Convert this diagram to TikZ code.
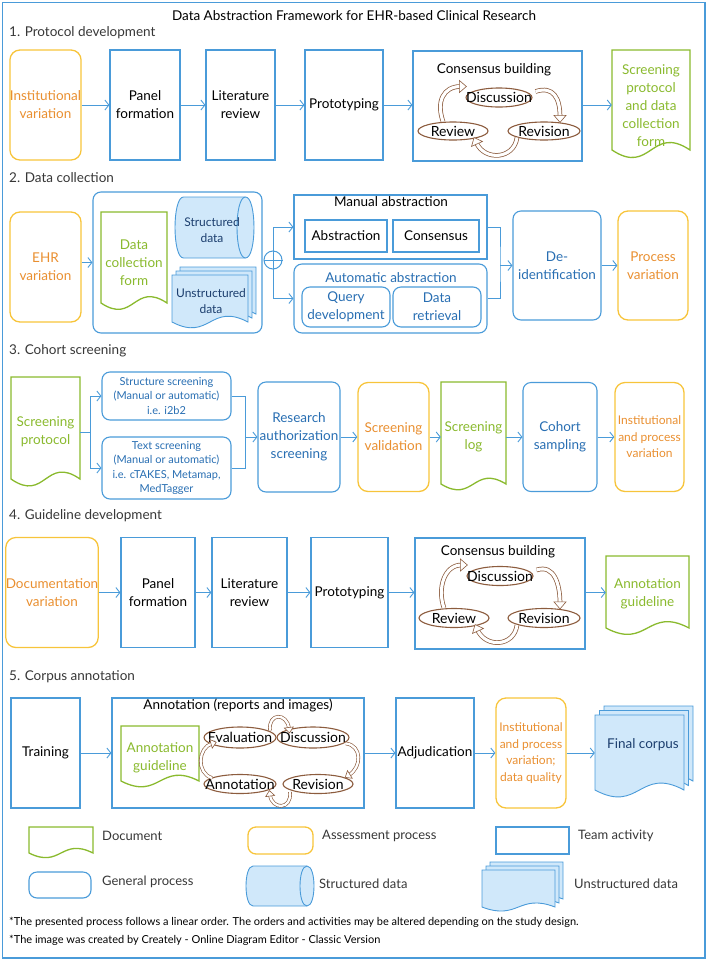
\documentclass[tikz,border=0pt]{standalone}
\usepackage{fontspec}
\setmainfont{Lato}
\usetikzlibrary{arrows.meta,calc,decorations.markings,shapes.geometric}
\definecolor{bl}{RGB}{74,155,217}
\definecolor{blt}{RGB}{40,110,178}
\definecolor{nav}{RGB}{28,62,110}
\definecolor{yel}{RGB}{247,196,59}
\definecolor{org}{RGB}{233,143,48}
\definecolor{grn}{RGB}{138,186,46}
\definecolor{brn}{RGB}{140,92,62}
\definecolor{lbl}{RGB}{208,232,250}
\definecolor{sec}{RGB}{55,55,55}
\newcommand\docp[5]{({#1},{#2}) -- ({#3},{#2}) -- ({#3},{#4}) .. controls ({(#1+#3)/2},{#4-#5}) and ({(#1+#3)/2},{#4+#5}) .. ({#1},{#4}) -- cycle}
\newcommand\cylp[5]{({#1+#5},{#2}) -- ({#3-#5},{#2}) .. controls ({#3+#5/3},{#2}) and ({#3+#5/3},{#4}) .. ({#3-#5},{#4}) -- ({#1+#5},{#4}) .. controls ({#1-#5/3},{#4}) and ({#1-#5/3},{#2}) .. ({#1+#5},{#2}) -- cycle}
\newcommand\cylin[5]{({#3-#5},{#2}) .. controls ({#3-#5*7/3},{#2}) and ({#3-#5*7/3},{#4}) .. ({#3-#5},{#4})}
\newcommand\mdoc[6]{%
 \draw[mdline] \docp{#1+2*#6}{#2-2*#6}{#3+2*#6}{#4-2*#6}{#5};
 \draw[mdline] \docp{#1+#6}{#2-#6}{#3+#6}{#4-#6}{#5};
 \draw[mdline] \docp{#1}{#2}{#3}{#4}{#5};}
\newcommand\holgen[5]{%
 \draw[brn, line width=#1] #5;
 \draw[white, line width=#2, postaction={decorate, decoration={markings, mark=at position 0.999 with {\draw[draw=brn, fill=white, line width=0.6pt, line join=miter] (-1pt,-#4) -- (#3,0pt) -- (-1pt,#4) -- cycle;}}}] #5;}
\newcommand\holB[1]{\holgen{4.6pt}{3.1pt}{6pt}{6pt}{#1}}
\newcommand\holS{\holgen{3.6pt}{2.3pt}{4.5pt}{4.5pt}}
\newcommand\consarrows[3]{%
 \holB{($(#2.north)+(-10,0)$) .. controls +(-7,-20) and +(-17,0) .. ($(#1.west)+(-5,-11)$)}
 \holB{($(#1.east)+(3,-6)$) .. controls +(18,-6) and +(0,-18) .. ($(#3.north)+(16,-5)$)}
 \holB{($(#3.south)+(-27,-3)$) .. controls +(-3,22) and +(8,18) .. ($(#2.east)+(-12,12)$)}}
\tikzset{
 base/.style={inner sep=0pt, align=center, font=\fontsize{13.5}{18}\selectfont},
 txt/.style={base},
 etxt/.style={inner sep=0pt, font=\fontsize{14}{16}\selectfont},
 f12/.style={font=\fontsize{12}{16.5}\selectfont},
 f11/.style={font=\fontsize{11}{14.5}\selectfont},
 team/.style={base, draw=bl, line width=1.1pt, text=black},
 gen/.style={base, draw=bl, line width=1.1pt, rounded corners=8pt, text=blt},
 asm/.style={base, draw=yel, line width=1.3pt, rounded corners=10pt, text=org},
 ghost/.style={base, draw=none},
 sz/.style 2 args={minimum width=#1pt, minimum height=#2pt},
 conn/.style={draw=bl, line width=0.9pt, -{Straight Barb[length=4pt,width=10pt]}},
 link/.style={draw=bl, line width=0.9pt},
 ell/.style={ellipse, draw=brn, line width=1.1pt, inner sep=0pt},
 docline/.style={draw=grn, line width=1.3pt, fill=white},
 mdline/.style={draw=bl, line width=0.9pt, fill=lbl},
 leg/.style={anchor=west, inner sep=0pt, text=sec, font=\fontsize{13}{15}\selectfont},
 seclab/.style={anchor=west, inner sep=0pt, text=sec, font=\fontsize{13.5}{15}\selectfont},
 foot/.style={anchor=west, inner sep=0pt, font=\fontsize{11}{13}\selectfont},
}
\begin{document}
\begin{tikzpicture}[x=1pt,y=-1pt]
\useasboundingbox (0,0) rectangle (709,962);
\draw[bl, line width=1.1pt] (2.5,2.5) rectangle (705,958);
\node[txt] (title) at (354,16) {Data Abstraction Framework for EHR-based Clinical Research};
\node[seclab] (s1) at (9,33) {1. Protocol development};
\node[seclab] (s2) at (9,178) {2. Data collection};
\node[seclab] (s3) at (9,351) {3. Cohort screening};
\node[seclab] (s4) at (9,516) {4. Guideline development};
\node[seclab] (s5) at (9,677) {5. Corpus annotation};

% ---------------- Section 1
\node[asm, sz={71}{110}] (iv1) at (45.5,105) {Institutional\\variation};
\node[team, sz={70}{110}] (pf1) at (145,105) {Panel\\formation};
\node[team, sz={69}{110}] (lr1) at (240.5,105) {Literature\\review};
\node[team, sz={78}{110}] (pt1) at (344,105) {Prototyping};
\node[team, sz={169}{110}] (cb1) at (497.5,106) {};
\node[txt] (cb1l) at (494,70) {Consensus building};
\node[ell, sz={66}{19}] (d1) at (499,97.5) {};
\node[etxt] (d1t) at (d1) {Discussion};
\node[ell, sz={70}{18}] (rv1) at (453,131) {};
\node[etxt] (rv1t) at (rv1) {Review};
\node[ell, sz={72}{18}] (rs1) at (544,131) {};
\node[etxt] (rs1t) at (rs1) {Revision};
\consarrows{d1}{rv1}{rs1}
\node[ghost, sz={78}{100}] (sp1) at (651,100) {};
\draw[docline] \docp{612}{50}{690}{150}{26};
\node[txt, text=grn] (sp1t) at (651,106) {Screening\\protocol\\and data\\collection\\form};
\draw[conn] (iv1) -- (pf1);
\draw[conn] (pf1) -- (lr1);
\draw[conn] (lr1) -- (pt1);
\draw[conn] (pt1.east) -- (pt1.east -| cb1.west);
\draw[conn] (cb1.east |- pt1.east) -- (sp1.west |- pt1.east);

% ---------------- Section 2
\node[asm, sz={71}{110}] (ehr) at (45.5,267) {EHR\\variation};
\node[gen, sz={169}{141}] (dc) at (177.5,262.5) {};
\draw[conn] (dc.west -| ehr.east) -- (dc.west);
\node[ghost, sz={66}{91}] (dcf) at (134,257.5) {};
\draw[docline] \docp{101}{212}{167}{303}{22};
\node[txt, text=grn] (dcft) at (134,263) {Data\\collection\\form};
\node[ghost, sz={79}{61}] (sd) at (214.5,227.5) {};
\draw[mdline] \cylp{175}{197}{254}{258}{8.5};
\draw[bl, line width=0.9pt] \cylin{175}{197}{254}{258}{8.5};
\node[txt, f12, text=nav] (sdt) at (212,230) {Structured\\data};
\node[ghost, sz={84}{65}] (ud) at (214,299.5) {};
\mdoc{172}{275}{248}{322}{20}{4}
\node[txt, f12, text=nav] (udt) at (211,301) {Unstructured\\data};
\node[circle, draw=bl, line width=1pt, minimum size=18pt, inner sep=0pt] (pl) at (273,260) {};
\draw[link] (pl.north) -- (pl.south) (pl.west) -- (pl.east);
\node[team, sz={193}{64}] (ma) at (390.5,227) {};
\node[txt] (mal) at (391,202) {Manual abstraction};
\node[team, sz={82}{32}] (ab) at (346,236) {Abstraction};
\node[team, sz={86}{32}] (cn) at (436,236) {Consensus};
\node[gen, sz={193}{69}] (aa) at (390.5,298.5) {};
\node[txt, text=blt] (aal) at (391,278) {Automatic abstraction};
\node[gen, sz={88}{40}] (qd) at (346,307) {Query\\development};
\node[gen, sz={88}{40}] (drt) at (437,307) {Data\\retrieval};
\draw[conn] (pl.north) |- (ma.west);
\draw[conn] (pl.south) |- (aa.west);
\node[gen, sz={88}{109}] (de) at (557,265.5) {De-\\identification};
\node[asm, sz={70}{109}] (pv) at (653,265.5) {Process\\variation};
\coordinate (mj2) at (500,265.5);
\draw[link] (ma.east) -| (mj2) |- (aa.east);
\draw[conn] (mj2) -- (de.west |- mj2);
\draw[conn] (de) -- (pv);

% ---------------- Section 3
\node[ghost, sz={69}{102}] (sp3) at (45.5,428) {};
\draw[docline] \docp{11}{377}{80}{479}{24};
\node[txt, text=grn] (sp3t) at (45.5,432) {Screening\\protocol};
\node[gen, f11, sz={129}{48}] (ss) at (166.5,396) {Structure screening\\(Manual or automatic)\\i.e. i2b2};
\node[gen, f11, sz={129}{62}] (ts) at (166.5,468) {Text screening\\(Manual or automatic)\\i.e. cTAKES, Metamap,\\MedTagger};
\coordinate (br3) at (90,432);
\draw[link] (sp3.east |- br3) -- (br3);
\draw[conn] (br3) |- (ss.west);
\draw[conn] (br3) |- (ts.west);
\node[gen, sz={82}{110}] (ra) at (299,437) {Research\\authorization\\screening};
\coordinate (mg3) at (245,437);
\draw[link] (ss.east) -| (mg3);
\draw[link] (ts.east) -| (mg3);
\draw[conn] (mg3) -- (ra.west);
\node[asm, sz={71}{109}] (sv) at (393.5,437) {Screening\\validation};
\node[ghost, sz={65}{102}] (slog) at (473.5,433) {};
\draw[docline] \docp{441}{382}{506}{484}{20};
\node[txt, text=grn] (slogt) at (473.5,437) {Screening\\log};
\node[gen, sz={74}{109}] (cs) at (560,437) {Cohort\\sampling};
\node[asm, f12, sz={69}{109}] (ipv) at (649.5,437) {Institutional\\and process\\variation};
\draw[conn] (ra) -- (sv);
\draw[conn] (sv.east) -- (sv.east -| slog.west);
\draw[conn] (slog.east |- sv.east) -- (cs.west);
\draw[conn] (cs) -- (ipv);

% ---------------- Section 4
\node[asm, sz={82}{110}] (dv) at (52,592.5) {Documentation\\variation};
\node[team, sz={74}{110}] (pf4) at (158,592.5) {Panel\\formation};
\node[team, sz={75}{110}] (lr4) at (249.5,592.5) {Literature\\review};
\node[team, sz={77}{110}] (pt4) at (349.5,592.5) {Prototyping};
\node[team, sz={170}{111}] (cb4) at (500,593.5) {};
\node[txt] (cb4l) at (498,552) {Consensus building};
\node[ell, sz={66}{19}] (d4) at (500,576) {};
\node[etxt] (d4t) at (d4) {Discussion};
\node[ell, sz={70}{19}] (rv4) at (454,618) {};
\node[etxt] (rv4t) at (rv4) {Review};
\node[ell, sz={72}{19}] (rs4) at (544,618) {};
\node[etxt] (rs4t) at (rs4) {Revision};
\consarrows{d4}{rv4}{rs4}
\node[ghost, sz={83}{72}] (ag4) at (647.5,592) {};
\draw[docline] \docp{606}{556}{689}{628}{22};
\node[txt, text=grn] (ag4t) at (647.5,594) {Annotation\\guideline};
\draw[conn] (dv) -- (pf4);
\draw[conn] (pf4) -- (lr4);
\draw[conn] (lr4) -- (pt4);
\draw[conn] (pt4.east) -- (pt4.east -| cb4.west);
\draw[conn] (cb4.east |- pt4.east) -- (ag4.west |- pt4.east);

% ---------------- Section 5
\node[team, sz={69}{110}] (tr) at (45.5,753) {Training};
\node[team, sz={252}{110}] (an) at (238,753) {};
\node[txt] (anl) at (238,705) {Annotation (reports and images)};
\node[ghost, sz={78}{55}] (ag5) at (160,753.5) {};
\draw[docline] \docp{121}{726}{199}{781}{20};
\node[txt, text=grn] (ag5t) at (160,758) {Annotation\\guideline};
\node[ell, sz={72}{21}] (ev5) at (240,737.5) {};
\node[etxt] (ev5t) at (ev5) {Evaluation};
\node[ell, sz={72}{21}] (ds5) at (313,737.5) {};
\node[etxt] (ds5t) at (ds5) {Discussion};
\node[ell, sz={72}{19}] (an5) at (240,784) {};
\node[etxt] (an5t) at (an5) {Annotation};
\node[ell, sz={70}{19}] (rv5) at (318,784) {};
\node[etxt] (rv5t) at (rv5) {Revision};
\holS{($(ev5)+(30,-7)$) .. controls +(-2,-18) and +(-2,-16) .. ($(ds5)+(-24,-9)$)}
\holS{($(ds5)+(33,6)$) .. controls +(16,2) and +(13,-8) .. ($(rv5)+(31,-9)$)}
\holS{($(rv5)+(-28,8)$) .. controls +(2,18) and +(2,15) .. ($(an5)+(30,11)$)}
\holS{($(an5)+(-28,-6)$) .. controls +(-16,-5) and +(-14,4) .. ($(ev5)+(-28,6)$)}
\node[team, sz={78}{110}] (adj) at (435,753) {Adjudication};
\node[asm, f12, sz={70}{110}] (iq) at (531,753) {Institutional\\and process\\variation;\\data quality};
\node[ghost, sz={98}{85}] (fc) at (644,753) {};
\mdoc{595}{715}{684}{790}{24}{4.5}
\node[txt, text=nav] (fct) at (643,745) {Final corpus};
\draw[conn] (tr) -- (an);
\draw[conn] (an) -- (adj);
\draw[conn] (adj) -- (iq);
\draw[conn] (iq.east) -- (iq.east -| fc.west);

% ---------------- Legend
\draw[docline] \docp{29}{827}{93}{853}{16};
\node[leg] (lg1) at (102,836) {Document};
\draw[draw=yel, line width=1.3pt, rounded corners=8pt] (248,827) rectangle (313,854);
\node[leg] (lg2) at (322,836) {Assessment process};
\draw[draw=bl, line width=1.1pt] (496,827) rectangle (569,854);
\node[leg] (lg3) at (578,836) {Team activity};
\draw[draw=bl, line width=1.1pt, rounded corners=8pt] (29,872) rectangle (91,898);
\node[leg] (lg4) at (102,882) {General process};
\draw[mdline] \cylp{246}{866}{314}{906}{7};
\draw[bl, line width=0.9pt] \cylin{246}{866}{314}{906}{7};
\node[leg] (lg5) at (319,884) {Structured data};
\mdoc{482}{870}{555}{907}{14}{4}
\node[leg] (lg6) at (574,884) {Unstructured data};
\node[foot] (fn1) at (9,922) {*The presented process follows a linear order. The orders and activities may be altered depending on the study design.};
\node[foot] (fn2) at (9,940) {*The image was created by Creately - Online Diagram Editor - Classic Version};
\end{tikzpicture}
\end{document}
